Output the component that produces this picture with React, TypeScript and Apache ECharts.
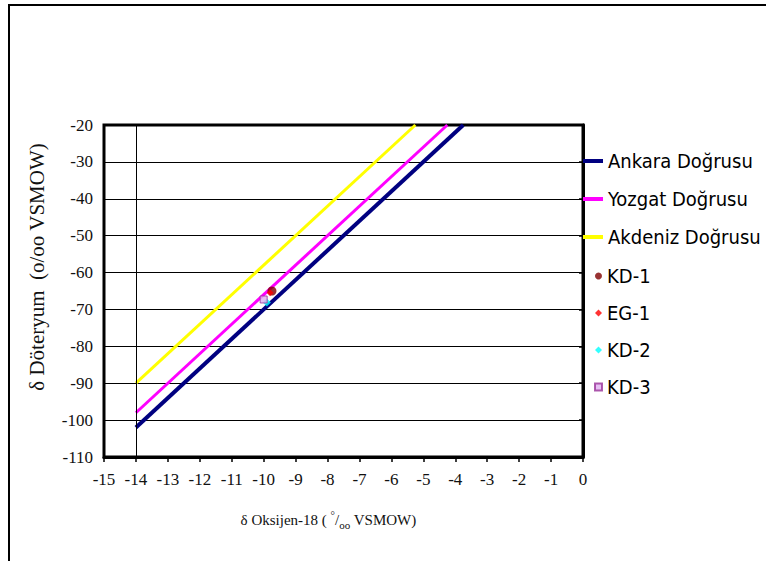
import { useEffect, useRef } from "react";
import * as echarts from "echarts";

// Meteoric water lines (δ18O, δD) endpoints
const ankaraLine: [number, number][] = [[-14, -102], [-3.75, -20]];
const yozgatLine: [number, number][] = [[-14, -98], [-4.25, -20]];
const akdenizLine: [number, number][] = [[-14, -90], [-5.25, -20]];

// Samples (δ18O, δD)
const kd1: [number, number][] = [[-9.74, -65.0]];
const eg1: [number, number][] = [[-9.8, -65.5]];
const kd2: [number, number][] = [[-9.9, -68.1]];
const kd3: [number, number][] = [[-10.0, -67.3]];

const lineNames = ["Ankara Doğrusu", "Yozgat Doğrusu", "Akdeniz Doğrusu"];
const sampleNames = ["KD-1", "EG-1", "KD-2", "KD-3"];
const sampleIcons = ["circle", "diamond", "diamond", "rect"];

const xMin = -15;
const xMax = 0;
const yMin = -110;
const yMax = -20;
const referenceX = -14;

const serif = "Liberation Serif, Times New Roman, Times, serif";
const sansNarrow =
  "Liberation Sans Narrow, Arial Narrow, DejaVu Sans Condensed, Liberation Sans, Arial, sans-serif";

const legendText = {
  fontFamily: sansNarrow,
  fontSize: 20,
  lineHeight: 26,
  color: "#000",
};

const tickRich = {
  t: { fontFamily: serif, fontSize: 17, color: "#111" },
};

export default function App() {
  const ref = useRef<HTMLDivElement>(null);

  useEffect(() => {
    if (!ref.current) return;
    const chart = echarts.init(ref.current, undefined, { renderer: "svg" });
    chart.setOption({
      animation: false,
      backgroundColor: "#ffffff",
      textStyle: { fontFamily: serif, fontSize: 16, color: "#111" },
      graphic: [
        {
          type: "rect",
          shape: { x: 9, y: 5, width: 800, height: 600 },
          style: { fill: "none", stroke: "#000", lineWidth: 2 },
          silent: true,
          z: 0,
        },
      ],
      grid: {
        left: 104,
        right: 183,
        top: 125,
        bottom: 104,
        show: true,
        borderColor: "#000",
        borderWidth: 3,
        backgroundColor: "transparent",
        containLabel: false,
      },
      legend: [
        {
          orient: "vertical",
          left: 583,
          top: 148,
          padding: 0,
          itemWidth: 20,
          itemHeight: 4,
          itemGap: 12,
          itemTextGap: 7,
          data: lineNames.map((name) => ({ name, icon: "rect" })),
          textStyle: legendText,
        },
        {
          orient: "vertical",
          left: 594,
          top: 263,
          padding: 0,
          itemWidth: 7,
          itemHeight: 7,
          itemGap: 11,
          itemTextGap: 9,
          data: sampleNames.map((name, i) => ({ name, icon: sampleIcons[i] })),
          textStyle: legendText,
        },
      ],
      xAxis: {
        type: "value",
        min: xMin,
        max: xMax,
        interval: 1,
        name: "{n|δ Oksijen-18 ( }{sup|°}{n|/}{sub|oo}{n| VSMOW)}",
        nameLocation: "middle",
        nameGap: 52,
        nameTextStyle: {
          padding: [0, 30, 0, 0],
          rich: {
            n: { fontFamily: serif, fontSize: 15, color: "#111" },
            sup: { fontFamily: serif, fontSize: 11, color: "#111", padding: [0, 0, 10, 0] },
            sub: { fontFamily: serif, fontSize: 11, color: "#111", padding: [10, 0, 0, 0] },
          },
        },
        axisLine: { show: true, lineStyle: { color: "#000", width: 3 } },
        axisTick: { show: true, length: 5, lineStyle: { color: "#000", width: 1.5 } },
        axisLabel: {
          margin: 14,
          formatter: "{t|{value}}",
          rich: tickRich,
        },
        splitLine: { show: false },
      },
      yAxis: {
        type: "value",
        min: yMin,
        max: yMax,
        interval: 10,
        name: "δ Döteryum  (o/oo VSMOW)",
        nameLocation: "middle",
        nameGap: 57,
        nameTextStyle: {
          fontFamily: serif,
          fontSize: 21,
          color: "#111",
          padding: [0, 0, 0, 48],
        },
        axisLine: { show: true, lineStyle: { color: "#000", width: 3 } },
        axisTick: { show: true, length: 4, lineStyle: { color: "#000", width: 1.5 } },
        axisLabel: {
          margin: 11,
          formatter: "{t|{value}}",
          rich: tickRich,
        },
        splitLine: { show: true, lineStyle: { color: "#000", width: 1 } },
      },
      series: [
        {
          name: lineNames[0],
          type: "line",
          data: ankaraLine,
          symbol: "none",
          lineStyle: { color: "#000080", width: 4 },
          itemStyle: { color: "#000080" },
          z: 3,
          markLine: {
            silent: true,
            symbol: ["none", "none"],
            label: { show: false },
            lineStyle: { color: "#000", width: 1, type: "solid" },
            data: [{ xAxis: referenceX }],
          },
        },
        {
          name: lineNames[1],
          type: "line",
          data: yozgatLine,
          symbol: "none",
          lineStyle: { color: "#FF00FF", width: 3 },
          itemStyle: { color: "#FF00FF" },
          z: 3,
        },
        {
          name: lineNames[2],
          type: "line",
          data: akdenizLine,
          symbol: "none",
          lineStyle: { color: "#FFFF00", width: 3 },
          itemStyle: { color: "#FFFF00" },
          z: 3,
        },
        {
          name: sampleNames[0],
          type: "scatter",
          data: kd1,
          symbol: "circle",
          symbolSize: 9,
          itemStyle: { color: "#800000" },
          z: 5,
        },
        {
          name: sampleNames[1],
          type: "scatter",
          data: eg1,
          symbol: "diamond",
          symbolSize: 7,
          itemStyle: { color: "#FF0000" },
          z: 6,
        },
        {
          name: sampleNames[2],
          type: "scatter",
          data: kd2,
          symbol: "diamond",
          symbolSize: 8,
          itemStyle: { color: "#00FFFF" },
          z: 5,
        },
        {
          name: sampleNames[3],
          type: "scatter",
          data: kd3,
          symbol: "rect",
          symbolSize: 7,
          itemStyle: { color: "#E0B0F0", borderColor: "#993399", borderWidth: 1 },
          z: 6,
        },
      ],
    });
    return () => chart.dispose();
  }, []);

  return (
    <div
      ref={ref}
      style={{ position: "absolute", left: 0, top: 0, width: 766, height: 561 }}
    />
  );
}
